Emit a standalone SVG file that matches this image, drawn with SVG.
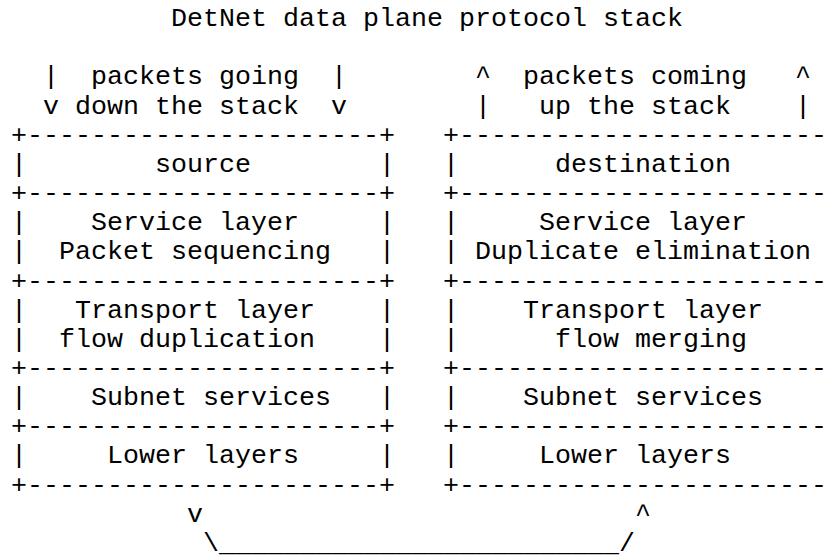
<svg xmlns="http://www.w3.org/2000/svg" width="832" height="558" viewBox="0 0 832 558">
<style>
  .m { font-family: "Liberation Mono", "Courier New", monospace; font-size: 26.67px; fill: #000; white-space: pre; }
</style>
<rect width="832" height="558" fill="#fff"/>
<g id="title">
  <text class="m" x="171" y="26.1">DetNet data plane protocol stack</text>
</g>
<g id="connectors">
  <g id="down-arrows">
    <text class="m" x="43" y="84.4">|</text>
    <text class="m" x="91" y="84.4">packets going</text>
    <text class="m" x="331" y="84.4">|</text>
    <text class="m" x="43" y="113.6">v</text>
    <text class="m" x="75" y="113.6">down the stack</text>
    <text class="m" x="331" y="113.6">v</text>
  </g>
  <g id="up-arrows">
    <text class="m" x="475" y="84.4">^</text>
    <text class="m" x="523" y="84.4">packets coming</text>
    <text class="m" x="795" y="84.4">^</text>
    <text class="m" x="475" y="113.6">|</text>
    <text class="m" x="539" y="113.6">up the stack</text>
    <text class="m" x="795" y="113.6">|</text>
  </g>
  <g id="loop">
    <text class="m" x="187" y="521.6">v</text>
    <text class="m" x="635" y="521.6">^</text>
    <text class="m" x="203" y="550.8">\_________________________/</text>
  </g>
</g>
<g id="left-stack">
  <g id="source">
    <text class="m" x="11" y="142.7">+----------------------+</text>
    <text class="m" x="11" y="171.9">|</text>
    <text class="m" x="155" y="171.9">source</text>
    <text class="m" x="379" y="171.9">|</text>
    <text class="m" x="11" y="201.0">+----------------------+</text>
  </g>
  <g id="src-service">
    <text class="m" x="11" y="230.2">|</text>
    <text class="m" x="91" y="230.2">Service layer</text>
    <text class="m" x="379" y="230.2">|</text>
    <text class="m" x="11" y="259.3">|</text>
    <text class="m" x="59" y="259.3">Packet sequencing</text>
    <text class="m" x="379" y="259.3">|</text>
    <text class="m" x="11" y="288.5">+----------------------+</text>
  </g>
  <g id="src-transport">
    <text class="m" x="11" y="317.6">|</text>
    <text class="m" x="75" y="317.6">Transport layer</text>
    <text class="m" x="379" y="317.6">|</text>
    <text class="m" x="11" y="346.8">|</text>
    <text class="m" x="59" y="346.8">flow duplication</text>
    <text class="m" x="379" y="346.8">|</text>
    <text class="m" x="11" y="375.9">+----------------------+</text>
  </g>
  <g id="src-subnet">
    <text class="m" x="11" y="405.1">|</text>
    <text class="m" x="91" y="405.1">Subnet services</text>
    <text class="m" x="379" y="405.1">|</text>
    <text class="m" x="11" y="434.2">+----------------------+</text>
  </g>
  <g id="src-lower">
    <text class="m" x="11" y="463.4">|</text>
    <text class="m" x="107" y="463.4">Lower layers</text>
    <text class="m" x="379" y="463.4">|</text>
    <text class="m" x="11" y="492.5">+----------------------+</text>
  </g>
</g>
<g id="right-stack">
  <g id="destination">
    <text class="m" x="443" y="142.7">+-----------------------</text>
    <text class="m" x="443" y="171.9">|</text>
    <text class="m" x="555" y="171.9">destination</text>
    <text class="m" x="443" y="201.0">+-----------------------</text>
  </g>
  <g id="dst-service">
    <text class="m" x="443" y="230.2">|</text>
    <text class="m" x="539" y="230.2">Service layer</text>
    <text class="m" x="443" y="259.3">|</text>
    <text class="m" x="475" y="259.3">Duplicate elimination</text>
    <text class="m" x="443" y="288.5">+-----------------------</text>
  </g>
  <g id="dst-transport">
    <text class="m" x="443" y="317.6">|</text>
    <text class="m" x="523" y="317.6">Transport layer</text>
    <text class="m" x="443" y="346.8">|</text>
    <text class="m" x="555" y="346.8">flow merging</text>
    <text class="m" x="443" y="375.9">+-----------------------</text>
  </g>
  <g id="dst-subnet">
    <text class="m" x="443" y="405.1">|</text>
    <text class="m" x="523" y="405.1">Subnet services</text>
    <text class="m" x="443" y="434.2">+-----------------------</text>
  </g>
  <g id="dst-lower">
    <text class="m" x="443" y="463.4">|</text>
    <text class="m" x="539" y="463.4">Lower layers</text>
    <text class="m" x="443" y="492.5">+-----------------------</text>
  </g>
</g>
</svg>
